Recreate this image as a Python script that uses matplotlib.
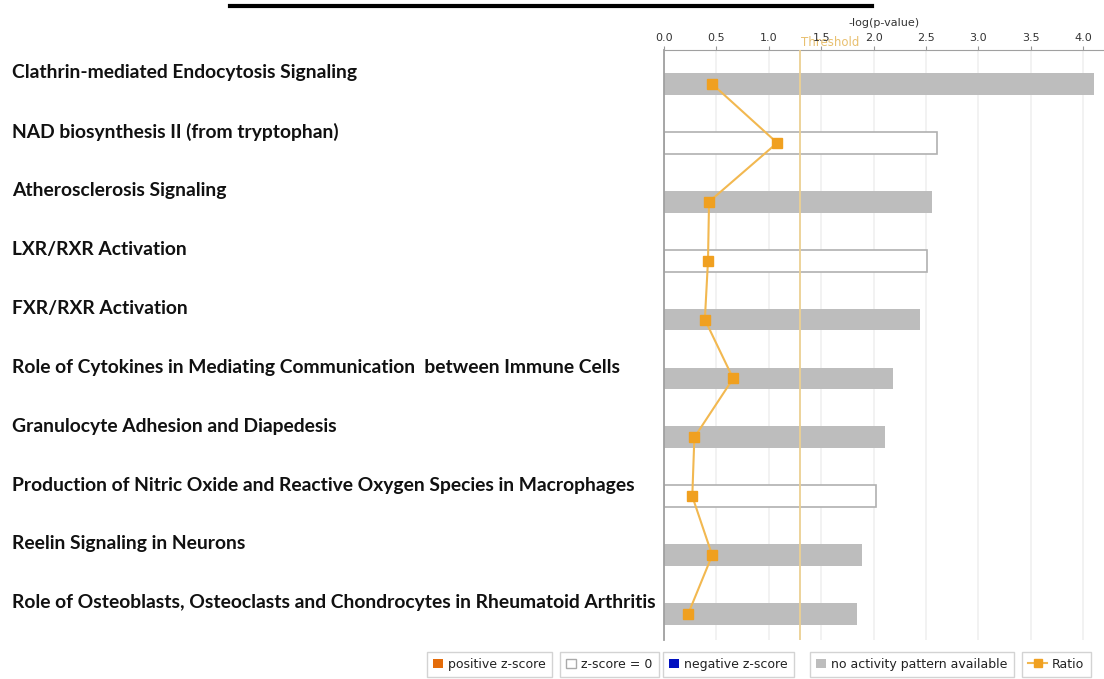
import numpy as np
import matplotlib
matplotlib.use('Agg')
import matplotlib.pyplot as plt
import matplotlib.transforms as mtransforms
from matplotlib.lines import Line2D
from matplotlib.patches import Patch

pathways = [
    'Clathrin-mediated Endocytosis Signaling',
    'NAD biosynthesis II (from tryptophan)',
    'Atherosclerosis Signaling',
    'LXR/RXR Activation',
    'FXR/RXR Activation',
    'Role of Cytokines in Mediating Communication  between Immune Cells',
    'Granulocyte Adhesion and Diapedesis',
    'Production of Nitric Oxide and Reactive Oxygen Species in Macrophages',
    'Reelin Signaling in Neurons',
    'Role of Osteoblasts, Osteoclasts and Chondrocytes in Rheumatoid Arthritis',
]
neg_log_p = [4.10, 2.61, 2.56, 2.51, 2.44, 2.19, 2.11, 2.02, 1.89, 1.84]
zscore_zero = [False, True, False, True, False, False, False, True, False, False]
ratio = [0.46, 1.08, 0.43, 0.42, 0.39, 0.66, 0.29, 0.27, 0.46, 0.23]
threshold = 1.3
ticks = [0.0, 0.5, 1.0, 1.5, 2.0, 2.5, 3.0, 3.5, 4.0]

GRAY = '#bdbdbd'
ORANGE = '#f0a020'

fig = plt.figure(figsize=(11.04, 6.79), dpi=100)
ax = fig.add_axes([664 / 1104, 1 - 640 / 679, 1 - 664 / 1104, (640 - 50) / 679])

y = np.arange(len(pathways))
for i in range(len(pathways)):
    if zscore_zero[i]:
        ax.barh(y[i], neg_log_p[i], height=0.37, color='white', edgecolor='#b0b0b0', linewidth=1.2, zorder=2)
    else:
        ax.barh(y[i], neg_log_p[i], height=0.37, color=GRAY, edgecolor='none', zorder=2)

ax.axvline(threshold, color='#ecd092', linewidth=1.3, zorder=3)
ax.plot(ratio, y, color='#f2b850', linewidth=1.5, zorder=4)
ax.plot(ratio, y, linestyle='none', marker='s', markersize=7, color=ORANGE, zorder=5)

ax.set_xlim(0, 4.2)
ax.set_ylim(len(pathways) - 1 + 0.44, -0.577)
ax.xaxis.tick_top()
ax.xaxis.set_label_position('top')
ax.set_xticks(ticks)
ax.set_xticklabels(['%.1f' % t for t in ticks], fontsize=8, color='#333333')
ax.tick_params(axis='x', length=3, color='#999999', pad=2)
ax.set_xlabel('-log(p-value)', fontsize=8, color='#333333', labelpad=5)
ax.set_yticks([])
ax.grid(axis='x', color='#f0f0f0', linewidth=1.2, zorder=0)
for side in ['right', 'bottom']:
    ax.spines[side].set_visible(False)
ax.spines['top'].set_color('#a0a0a0')
ax.spines['left'].set_color('#a0a0a0')
ax.spines['left'].set_linewidth(1.3)

ax.text(threshold + 0.01, 1.002, 'Threshold', transform=mtransforms.blended_transform_factory(ax.transData, ax.transAxes),
        fontsize=8.5, color='#e8c070', va='bottom', ha='left', zorder=1)

# pathway names on the left
trans = mtransforms.blended_transform_factory(fig.transFigure, ax.transData)
for i, name in enumerate(pathways):
    ax.text(12 / 1104, y[i] - 0.19, name, transform=trans, ha='left', va='center',
            fontsize=13.9, fontweight='bold', family='Lato', color='#111111', clip_on=False)

# underline of the cut-off title
fig.add_artist(Line2D([230 / 1104, 872 / 1104], [1 - 6 / 679, 1 - 6 / 679], color='black', linewidth=3))

# boxed legend items
items = [
    ('positive z-score', Patch(facecolor='#e46c0a', edgecolor='none'), 427, 0.8),
    ('z-score = 0', Patch(facecolor='white', edgecolor='#aaaaaa'), 560, 0.8),
    ('negative z-score', Patch(facecolor='#0010c0', edgecolor='none'), 663, 0.8),
    ('no activity pattern available', Patch(facecolor=GRAY, edgecolor='none'), 810, 0.8),
    ('Ratio', Line2D([0], [0], color='#f2b850', marker='s', markersize=6, linewidth=1.5,
                     markerfacecolor=ORANGE, markeredgecolor=ORANGE), 1022, 1.5),
]
for label, handle, x0, hl in items:
    leg = fig.legend([handle], [label], loc='lower left', bbox_to_anchor=(x0 / 1104, 2 / 679),
                     fontsize=9, frameon=True, fancybox=False, edgecolor='#c8c8c8',
                     handlelength=hl, handleheight=0.8, handletextpad=0.4,
                     borderpad=0.5, borderaxespad=0)
    leg.get_frame().set_linewidth(1.0)
    for t in leg.get_texts():
        t.set_color('#222222')

fig.savefig('out.png', dpi=100)
